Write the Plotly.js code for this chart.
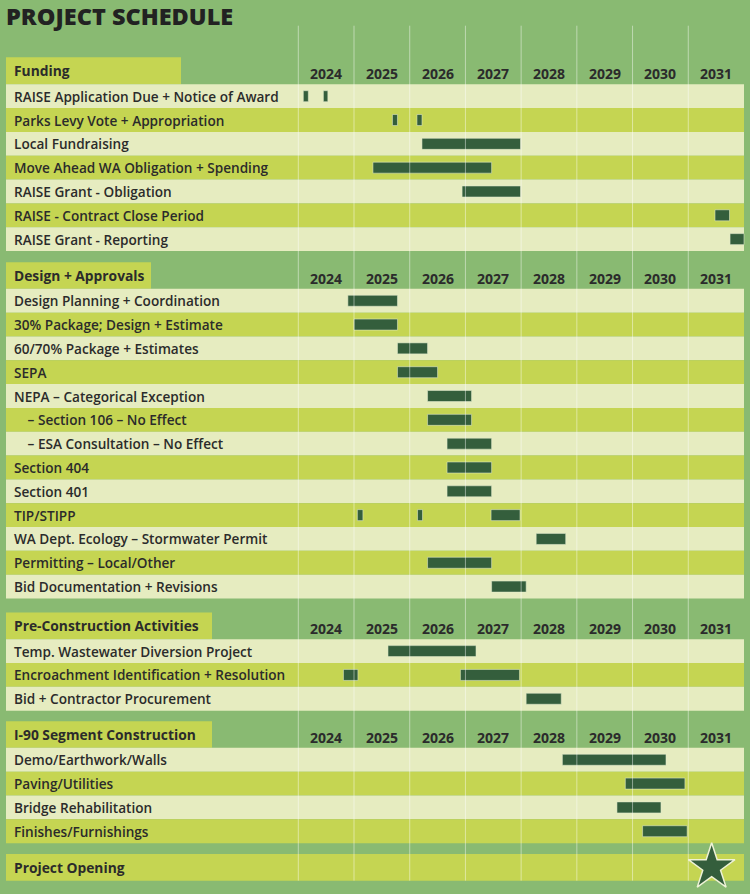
<!DOCTYPE html>
<html>
<head>
<meta charset="utf-8">
<script src="https://cdn.plot.ly/plotly-3.0.1.min.js"></script>
<style>html,body{margin:0;padding:0;background:#89ba72;}#chart{width:750px;height:894px;}</style>
</head>
<body>
<div id="chart"></div>
<script>
// ---------- DATA ----------
const years = [2024, 2025, 2026, 2027, 2028, 2029, 2030, 2031];

const sectionTitles = ['Funding', 'Design + Approvals', 'Pre-Construction Activities', 'I-90 Segment Construction'];

const fundingTasks = [
  'RAISE Application Due + Notice of Award',
  'Parks Levy Vote + Appropriation',
  'Local Fundraising',
  'Move Ahead WA Obligation + Spending',
  'RAISE Grant - Obligation',
  'RAISE - Contract Close Period',
  'RAISE Grant - Reporting'
];
const fundingStart = [[2024.09, 2024.45], [2025.69, 2026.13], [2026.22], [2025.34], [2026.94], [2031.48], [2031.75]];
const fundingEnd   = [[2024.18, 2024.53], [2025.78, 2026.22], [2027.99], [2027.47], [2027.99], [2031.74], [2032.0]];

const designTasks = [
  'Design Planning + Coordination',
  '30% Package; Design + Estimate',
  '60/70% Package + Estimates',
  'SEPA',
  'NEPA \u2013 Categorical Exception',
  '  \u2013 Section 106 \u2013 No Effect',
  '  \u2013 ESA Consultation \u2013 No Effect',
  'Section 404',
  'Section 401',
  'TIP/STIPP',
  'WA Dept. Ecology \u2013 Stormwater Permit',
  'Permitting \u2013 Local/Other',
  'Bid Documentation + Revisions'
];
const designStart = [[2024.89], [2025.0], [2025.78], [2025.78], [2026.32], [2026.32], [2026.67], [2026.67], [2026.67], [2025.06, 2026.14, 2027.46], [2028.27], [2026.32], [2027.47]];
const designEnd   = [[2025.78], [2025.78], [2026.32], [2026.5], [2027.11], [2027.11], [2027.47], [2027.47], [2027.47], [2025.16, 2026.23, 2027.98], [2028.8], [2027.47], [2028.09]];

const preTasks = [
  'Temp. Wastewater Diversion Project',
  'Encroachment Identification + Resolution',
  'Bid + Contractor Procurement'
];
const preStart = [[2025.61], [2024.81, 2026.91], [2028.09]];
const preEnd   = [[2027.19], [2025.07, 2027.97], [2028.72]];

const i90Tasks = [
  'Demo/Earthwork/Walls',
  'Paving/Utilities',
  'Bridge Rehabilitation',
  'Finishes/Furnishings'
];
const i90Start = [[2028.74], [2029.87], [2029.72], [2030.18]];
const i90End   = [[2030.6], [2030.94], [2030.51], [2030.98]];

const openingLabel = 'Project Opening';
const openingDate = 2031.42;

// ---------- LAYOUT CONSTANTS ----------
const W = 750, H = 894;
const X0PX = 298.3, YEARPX = 55.71;
const ROW = 23.82;
const HEADER_H = [27, 26.7, 26.7, 26.7];
const HEADER_BOX_W = [175, 145, 206, 206];
const GAP_AFTER = [11.1, 14, 10.5, 10.8];
const LEFT = 6, RIGHT = 744;
const C_BG = '#89ba72', C_LIGHT = '#e6ecc0', C_DARK = '#c5d552', C_BAR = '#345e3c', C_TEXT = '#2b2b2b';
const FONT = '"Open Sans", "Noto Sans", sans-serif';

const sections = [
  {tasks: fundingTasks, start: fundingStart, end: fundingEnd},
  {tasks: designTasks, start: designStart, end: designEnd},
  {tasks: preTasks, start: preStart, end: preEnd},
  {tasks: i90Tasks, start: i90Start, end: i90End}
];

const shapes = [], annotations = [];
const barY = [], barBase = [], barLen = [];

function rect(x0px, x1px, y0, y1, color) {
  shapes.push({type: 'rect', xref: 'paper', yref: 'y', x0: x0px / W, x1: x1px / W, y0: y0, y1: y1,
    fillcolor: color, line: {width: 0}, layer: 'below'});
}
function label(text, y, bold) {
  annotations.push({xref: 'paper', yref: 'y', x: 12 / W, y: y, xanchor: 'left', yanchor: 'middle',
    text: text, showarrow: false,
    font: {family: FONT, size: bold ? 13.8 : 13.6, color: C_TEXT, weight: bold ? 700 : 600}});
}

let y = 57.3;
sections.forEach((s, si) => {
  const hTop = y, hH = HEADER_H[si];
  rect(LEFT, LEFT + HEADER_BOX_W[si], hTop, hTop + hH, C_DARK);
  label(sectionTitles[si], hTop + hH / 2, true);
  years.forEach(yr => {
    annotations.push({xref: 'x', yref: 'y', x: yr + 0.5, y: hTop + hH / 2 + 3, xanchor: 'center', yanchor: 'middle',
      text: String(yr), showarrow: false, font: {family: FONT, size: 14, color: C_TEXT, weight: 700}});
  });
  y = hTop + hH;
  s.tasks.forEach((t, i) => {
    rect(LEFT, RIGHT, y, y + ROW, i % 2 === 0 ? C_LIGHT : C_DARK);
    label(t.replace(/^  /, '\u2002\u2002'), y + ROW / 2, false);
    s.start[i].forEach((st, k) => {
      barY.push(y + ROW / 2);
      barBase.push(st);
      barLen.push(s.end[i][k] - st);
    });
    y += ROW;
  });
  y += GAP_AFTER[si];
});
// opening row
const openTop = y, openH = 26.7;
rect(LEFT, RIGHT, openTop, openTop + openH, C_DARK);
label(openingLabel, openTop + openH / 2, true);
const gridBottom = openTop + openH;

// gridlines
years.forEach(yr => {
  shapes.push({type: 'line', xref: 'x', yref: 'y', x0: yr, x1: yr, y0: 25.7, y1: gridBottom,
    line: {color: 'rgba(255,255,255,0.45)', width: 1}, layer: 'above'});
});

const traces = [
  {type: 'bar', orientation: 'h', y: barY, x: barLen, base: barBase, width: 11,
   marker: {color: C_BAR, line: {color: 'rgba(225,235,205,0.55)', width: 1}},
   hoverinfo: 'skip', showlegend: false},
  {type: 'scatter', mode: 'markers', x: [openingDate], y: [openTop + openH / 2],
   marker: {symbol: 'star', size: 35, color: C_BAR, line: {color: '#eef2d6', width: 1.5}},
   hoverinfo: 'skip', showlegend: false, cliponaxis: false}
];

const layout = {
  width: W, height: H, autosize: false,
  margin: {l: 0, r: 0, t: 0, b: 0, pad: 0},
  paper_bgcolor: C_BG, plot_bgcolor: C_BG,
  title: {text: 'PROJECT SCHEDULE', x: 6 / W, xref: 'paper', xanchor: 'left',
    y: 1 - 16.6 / H, yref: 'container', yanchor: 'middle',
    font: {family: FONT, size: 23.5, color: '#222222', weight: 800}},
  xaxis: {range: [2024 - X0PX / YEARPX, 2024 + (W - X0PX) / YEARPX], showgrid: false, zeroline: false,
    showticklabels: false, ticks: '', fixedrange: true},
  yaxis: {range: [H, 0], showgrid: false, zeroline: false, showticklabels: false, ticks: '', fixedrange: true},
  shapes: shapes, annotations: annotations, bargap: 0, showlegend: false
};

Plotly.newPlot('chart', traces, layout, {displayModeBar: false, staticPlot: true});
</script>
</body>
</html>
